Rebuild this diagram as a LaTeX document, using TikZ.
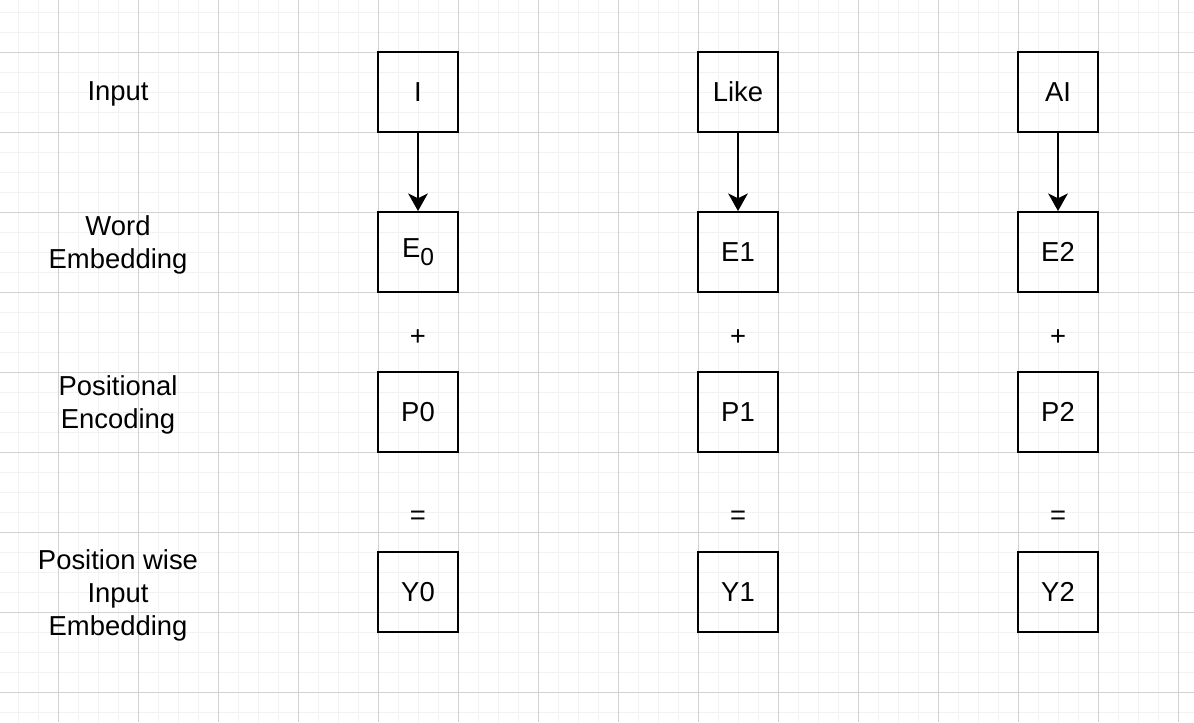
\documentclass[tikz,border=0pt]{standalone}
\usepackage{fontspec}
\setmainfont{Liberation Sans}
\usetikzlibrary{arrows.meta}
\definecolor{gridminor}{RGB}{242,242,242}
\definecolor{gridmajor}{RGB}{210,210,210}
\tikzset{
  cell/.style={draw,line width=1.4pt,minimum size=2cm,inner sep=0pt,font=\fontsize{19.5}{23.5}\selectfont},
  sign/.style={inner sep=0pt,font=\fontsize{19.5}{23.5}\selectfont},
  rowlabel/.style={align=center,inner sep=0pt,font=\fontsize{19.5}{23.5}\selectfont}
}
\newcommand{\subzero}{E\raisebox{-5.7pt}{\fontsize{17.5}{17.5}\selectfont 0}}
\begin{document}
\begin{tikzpicture}[x=0.025cm,y=-0.025cm,>={Stealth[length=12.5pt,width=14pt,inset=3.5pt]}]
    \useasboundingbox (0,0) rectangle (1194,722);
    \fill[white] (0,0) rectangle (1194,722);
    % grid
    \foreach \gx in {18,38,...,1178} \draw[gridminor,line width=0.7pt] (\gx,0)--(\gx,722);
    \foreach \gy in {12,32,...,712} \draw[gridminor,line width=0.7pt] (0,\gy)--(1194,\gy);
    \foreach \gx in {58,138,...,1178} \draw[gridmajor,line width=0.7pt] (\gx,0)--(\gx,722);
    \foreach \gy in {52,132,...,692} \draw[gridmajor,line width=0.7pt] (0,\gy)--(1194,\gy);
    % row labels
    \node[rowlabel] (lblInput) at (118,94) {Input};
    \node[rowlabel] (lblWord) at (118,245) {Word\\Embedding};
    \node[rowlabel] (lblPos) at (118,405) {Positional\\Encoding};
    \node[rowlabel] (lblOut) at (118,595) {Position wise\\Input\\Embedding};
    % column 0
    \node[cell] (in0) at (418,92) {I};
    \node[cell] (emb0) at (418,252) {\subzero};
    \node[sign] (plus0) at (418,338) {+};
    \node[cell] (pos0) at (418,412) {P0};
    \node[sign] (eq0) at (418,518) {=};
    \node[cell] (out0) at (418,592) {Y0};
    % column 1
    \node[cell] (in1) at (738,92) {Like};
    \node[cell] (emb1) at (738,252) {E1};
    \node[sign] (plus1) at (738,338) {+};
    \node[cell] (pos1) at (738,412) {P1};
    \node[sign] (eq1) at (738,518) {=};
    \node[cell] (out1) at (738,592) {Y1};
    % column 2
    \node[cell] (in2) at (1058,92) {AI};
    \node[cell] (emb2) at (1058,252) {E2};
    \node[sign] (plus2) at (1058,338) {+};
    \node[cell] (pos2) at (1058,412) {P2};
    \node[sign] (eq2) at (1058,518) {=};
    \node[cell] (out2) at (1058,592) {Y2};
    % arrows
    \draw[->,line width=1.4pt] (in0)--(emb0);
    \draw[->,line width=1.4pt] (in1)--(emb1);
    \draw[->,line width=1.4pt] (in2)--(emb2);
\end{tikzpicture}
\end{document}
